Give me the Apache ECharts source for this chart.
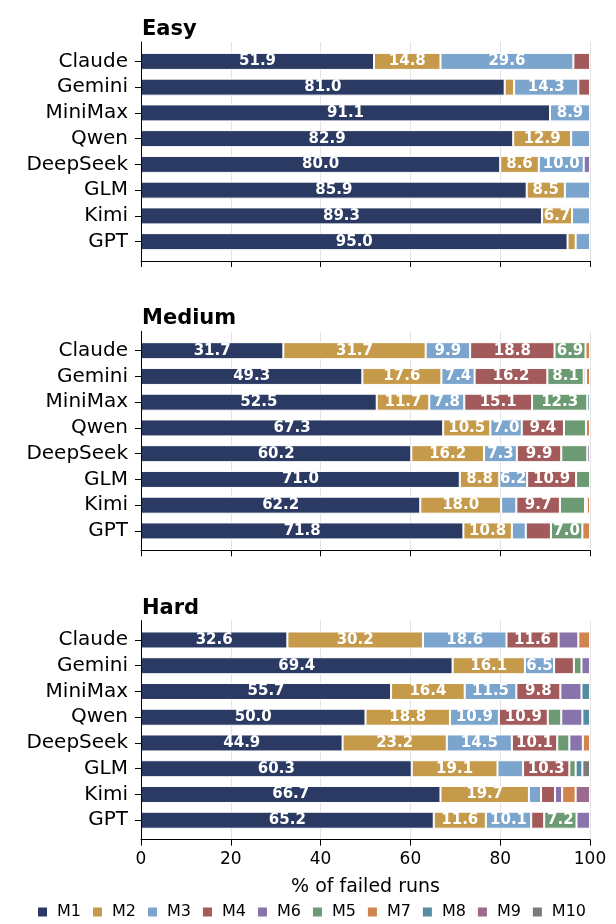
<!DOCTYPE html>
<html>
<head>
<meta charset="utf-8">
<script src="https://cdn.jsdelivr.net/npm/echarts@6/dist/echarts.min.js"></script>
<style>
  html, body { margin: 0; padding: 0; background: #fff; }
  #main { width: 616px; height: 924px; }
</style>
</head>
<body>
<div id="main"></div>
<script>
// 模型 / 类别
var models = ['Claude', 'Gemini', 'MiniMax', 'Qwen', 'DeepSeek', 'GLM', 'Kimi', 'GPT'];
// 堆叠顺序
var modeNames = ['M1', 'M2', 'M3', 'M4', 'M5', 'M6', 'M7', 'M8', 'M9', 'M10'];
// 图例顺序（和原图一样 M6 在 M5 前面）
var legendOrder = ['M1', 'M2', 'M3', 'M4', 'M6', 'M5', 'M7', 'M8', 'M9', 'M10'];
var panelTitles = ['Easy', 'Medium', 'Hard'];
var xTicks = [0, 20, 40, 60, 80, 100];

// Easy
var easyM1 = [51.9, 81.0, 91.1, 82.9, 80.0, 85.9, 89.3, 95.0];
var easyM2 = [14.8, 2.1, 0, 12.9, 8.6, 8.5, 6.7, 1.8];
var easyM3 = [29.6, 14.3, 8.9, 4.2, 10.0, 5.6, 4.0, 3.2];
var easyM4 = [3.7, 2.6, 0, 0, 0, 0, 0, 0];
var easyM5 = [0, 0, 0, 0, 0, 0, 0, 0];
var easyM6 = [0, 0, 0, 0, 1.4, 0, 0, 0];
var easyM7 = [0, 0, 0, 0, 0, 0, 0, 0];
var easyM8 = [0, 0, 0, 0, 0, 0, 0, 0];
var easyM9 = [0, 0, 0, 0, 0, 0, 0, 0];
var easyM10 = [0, 0, 0, 0, 0, 0, 0, 0];

// Medium
var mediumM1 = [31.7, 49.3, 52.5, 67.3, 60.2, 71.0, 62.2, 71.8];
var mediumM2 = [31.7, 17.6, 11.7, 10.5, 16.2, 8.8, 18.0, 10.8];
var mediumM3 = [9.9, 7.4, 7.8, 7.0, 7.3, 6.2, 3.4, 3.1];
var mediumM4 = [18.8, 16.2, 15.1, 9.4, 9.9, 10.9, 9.7, 5.6];
var mediumM5 = [6.9, 8.1, 12.3, 4.9, 5.8, 3.1, 5.6, 7.0];
var mediumM6 = [0, 0.5, 0, 0, 0.6, 0, 0.4, 0];
var mediumM7 = [1.0, 0.9, 0, 0.9, 0, 0, 0.7, 1.7];
var mediumM8 = [0, 0, 0.6, 0, 0, 0, 0, 0];
var mediumM9 = [0, 0, 0, 0, 0, 0, 0, 0];
var mediumM10 = [0, 0, 0, 0, 0, 0, 0, 0];

// Hard
var hardM1 = [32.6, 69.4, 55.7, 50.0, 44.9, 60.3, 66.7, 65.2];
var hardM2 = [30.2, 16.1, 16.4, 18.8, 23.2, 19.1, 19.7, 11.6];
var hardM3 = [18.6, 6.5, 11.5, 10.9, 14.5, 5.7, 2.7, 10.1];
var hardM4 = [11.6, 4.4, 9.8, 10.9, 10.1, 10.3, 3.1, 2.9];
var hardM5 = [0, 1.7, 0, 3.0, 2.7, 1.4, 0, 7.2];
var hardM6 = [4.4, 1.9, 4.7, 4.7, 3.0, 0, 1.6, 3.0];
var hardM7 = [2.6, 0, 0, 0, 1.6, 0, 3.0, 0];
var hardM8 = [0, 0, 1.9, 1.7, 0, 1.5, 0, 0];
var hardM9 = [0, 0, 0, 0, 0, 0, 3.2, 0];
var hardM10 = [0, 0, 0, 0, 0, 1.7, 0, 0];

var panelData = [
    [easyM1, easyM2, easyM3, easyM4, easyM5, easyM6, easyM7, easyM8, easyM9, easyM10],
    [mediumM1, mediumM2, mediumM3, mediumM4, mediumM5, mediumM6, mediumM7, mediumM8, mediumM9, mediumM10],
    [hardM1, hardM2, hardM3, hardM4, hardM5, hardM6, hardM7, hardM8, hardM9, hardM10]
];

var modeColors = {
    M1: '#2b3a63', M2: '#c59a4b', M3: '#7ca5ce', M4: '#a25a5a', M5: '#6c9a72',
    M6: '#8873aa', M7: '#cf854d', M8: '#548da3', M9: '#9c6a8e', M10: '#7a7a7a'
};

var font = 'DejaVu Sans';
var spineTop = [42, 331.3, 620.6];
var spineH = 219;
var inset = 6.5;

var titles = [], grids = [], xAxes = [], yAxes = [], series = [];

for (var p = 0; p < 3; p++) {
    titles.push({
        text: panelTitles[p], left: 137, top: spineTop[p] - 28,
        textStyle: { fontFamily: font, fontSize: 21, fontWeight: 'bold', color: '#000' }
    });
    // 外框 + 网格线
    grids.push({ left: 141, right: 26, top: spineTop[p], height: spineH });
    // 柱子
    grids.push({ left: 141, right: 26, top: spineTop[p] + inset, height: spineH - 2 * inset });

    xAxes.push({
        gridIndex: 2 * p, type: 'value',
        min: xTicks[0], max: xTicks[xTicks.length - 1], interval: xTicks[1] - xTicks[0],
        axisLine: { show: true, lineStyle: { color: '#000', width: 1 } },
        axisTick: { show: true, length: 6, lineStyle: { color: '#000' } },
        axisLabel: { show: p === 2, fontFamily: font, fontSize: 17, color: '#000', margin: 11 },
        splitLine: { show: true, lineStyle: { color: '#e3e3e3', width: 1 } },
        name: p === 2 ? '% of failed runs' : '',
        nameLocation: 'middle', nameGap: 38,
        nameTextStyle: { fontFamily: font, fontSize: 19, color: '#000' }
    });
    xAxes.push({
        gridIndex: 2 * p + 1, type: 'value',
        min: xTicks[0], max: xTicks[xTicks.length - 1], show: false
    });
    yAxes.push({
        gridIndex: 2 * p, type: 'value', min: 0, max: 1, z: 5,
        axisLine: { show: true, lineStyle: { color: '#000', width: 1 } },
        axisTick: { show: false }, axisLabel: { show: false }, splitLine: { show: false }
    });
    yAxes.push({
        gridIndex: 2 * p + 1, type: 'category', inverse: true, data: models,
        axisLine: { show: false },
        axisTick: { show: true, alignWithLabel: true, interval: 0, length: 6, lineStyle: { color: '#000' } },
        axisLabel: { interval: 0, fontFamily: font, fontSize: 20, color: '#000', margin: 13 },
        splitLine: { show: false }
    });

    for (var m = 0; m < modeNames.length; m++) {
        series.push({
            name: modeNames[m], type: 'bar', stack: 'panel' + p,
            xAxisIndex: 2 * p + 1, yAxisIndex: 2 * p + 1,
            barWidth: 17,
            data: panelData[p][m].map(function (v) { return v > 0 ? v : '-'; }),
            itemStyle: { color: modeColors[modeNames[m]], borderColor: '#fff', borderWidth: 1 },
            label: {
                show: true, position: 'inside',
                formatter: function (d) { return d.value >= 6 ? d.value.toFixed(1) : ''; },
                color: '#fff', fontWeight: 'bold', fontSize: 15, fontFamily: font,
                textBorderWidth: 0
            }
        });
    }
}

var option = {
    animation: false,
    backgroundColor: '#fff',
    title: titles,
    grid: grids,
    xAxis: xAxes,
    yAxis: yAxes,
    legend: {
        data: legendOrder, left: 36, top: 904, width: 578, padding: 0,
        icon: 'rect', itemWidth: 11, itemHeight: 11, itemGap: 10,
        textStyle: { fontFamily: font, fontSize: 16, color: '#000', padding: [0, 0, 0, 4] }
    },
    series: series
};

var myChart = echarts.init(document.getElementById('main'));
myChart.setOption(option);
</script>
</body>
</html>
